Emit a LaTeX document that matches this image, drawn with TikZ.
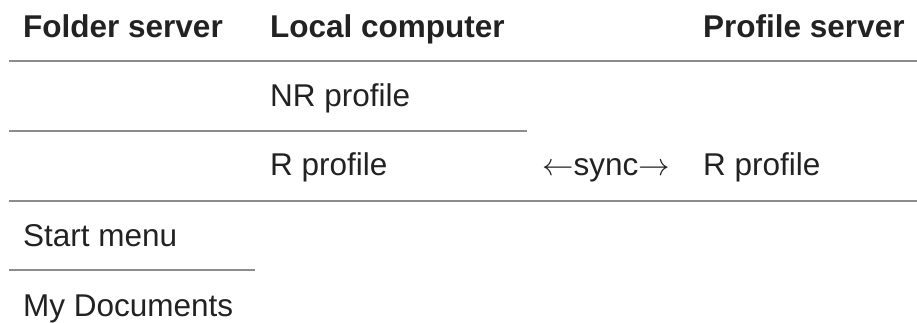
\RequirePackage{fix-cm}
\documentclass[tikz,border=0pt]{standalone}
\usepackage{fontspec}
\setmainfont{Liberation Sans}
\definecolor{rulegray}{HTML}{8C8C8C}
\definecolor{inkgray}{HTML}{222222}
\tikzset{
  cell/.style={anchor=base west, inner sep=0pt, text=inkgray,
    font=\fontsize{31.5}{38}\selectfont},
  head/.style={cell, font=\fontsize{31.5}{38}\selectfont\bfseries},
  rowrule/.style={draw=rulegray, line width=2pt}
}
\begin{document}
\begin{tikzpicture}[x=1pt, y=-1pt]
  \useasboundingbox (0,0) rectangle (917,322);
  % column headings
  \node[head] (hfolder) at (23,37) {Folder server};
  \node[head] (hlocal) at (270,37) {Local computer};
  \node[head] (hprofile) at (703,37) {Profile server};
  % row separators
  \coordinate (r1a) at (9,61);   \coordinate (r1b) at (917,61);
  \coordinate (r2a) at (9,131);  \coordinate (r2b) at (527,131);
  \coordinate (r3a) at (9,201);  \coordinate (r3b) at (917,201);
  \coordinate (r4a) at (9,270);  \coordinate (r4b) at (255,270);
  \draw[rowrule] (r1a) -- (r1b);
  \draw[rowrule] (r2a) -- (r2b);
  \draw[rowrule] (r3a) -- (r3b);
  \draw[rowrule] (r4a) -- (r4b);
  % cells
  \node[cell] (nr) at (270,106) {NR profile};
  \node[cell] (rlocal) at (270,175) {R profile};
  \node[cell] (sync) at (542,175) {$\leftarrow$sync$\rightarrow$};
  \node[cell] (rserver) at (703,175) {R profile};
  \node[cell] (start) at (23,246) {Start menu};
  \node[cell] (docs) at (23,316) {My Documents};
\end{tikzpicture}
\end{document}
